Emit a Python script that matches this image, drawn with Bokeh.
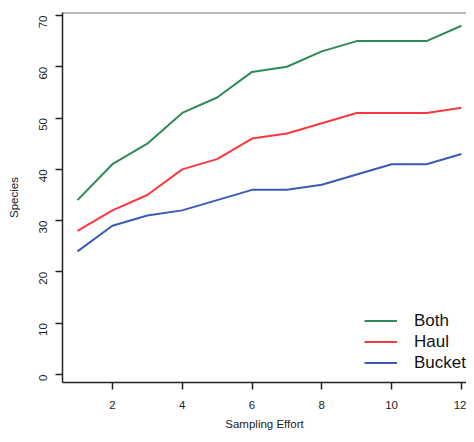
import math
from bokeh.plotting import figure
from bokeh.models import Legend, LegendItem, Span, FixedTicker, Range1d
from bokeh.embed import file_html
from bokeh.resources import INLINE

effort = [1, 2, 3, 4, 5, 6, 7, 8, 9, 10, 11, 12]
both = [34, 41, 45, 51, 54, 59, 60, 63, 65, 65, 65, 68]
haul = [28, 32, 35, 40, 42, 46, 47, 49, 51, 51, 51, 52]
bucket = [24, 29, 31, 32, 34, 36, 36, 37, 39, 41, 41, 43]
series_names = ["Both", "Haul", "Bucket"]
series_colors = ["#2E8B57", "#F8393F", "#3A5AB8"]
x_ticks = [2, 4, 6, 8, 10, 12]
y_ticks = [0, 10, 20, 30, 40, 50, 60, 70]

p = figure(width=466, height=434, output_backend="svg", toolbar_location=None,
           x_range=Range1d(0.57, 12.146), y_range=Range1d(-1.56, 70.58),
           min_border_left=62, min_border_top=12, min_border_right=0, min_border_bottom=52)
p.background_fill_color = "white"
p.border_fill_color = "white"
p.outline_line_color = None
p.grid.visible = False

renderers = []
for data, c in zip([both, haul, bucket], series_colors):
    r = p.line(effort, data, line_color=c, line_width=2)
    renderers.append(r)

font = "Liberation Sans"
for ax in (p.xaxis[0], p.yaxis[0]):
    ax.axis_line_color = "#222222"
    ax.axis_line_width = 1.5
    ax.major_tick_line_color = "#222222"
    ax.major_tick_line_width = 1.5
    ax.major_tick_out = 7
    ax.major_tick_in = 0
    ax.minor_tick_line_color = None
    ax.major_label_text_font = font
    ax.major_label_text_font_size = "11.5px"
    ax.major_label_text_color = "#222222"
    ax.major_label_standoff = 12
    ax.axis_label_text_font = font
    ax.axis_label_text_font_size = "11.5px"
    ax.axis_label_text_font_style = "normal"
    ax.axis_label_text_color = "#222222"

p.xaxis.major_label_standoff = 11
p.xaxis.axis_label_standoff = 6
p.yaxis.axis_label_standoff = 13
p.xaxis.ticker = FixedTicker(ticks=x_ticks)
p.yaxis.ticker = FixedTicker(ticks=y_ticks)
p.yaxis.major_label_orientation = math.pi / 2
p.xaxis.axis_label = "Sampling Effort"
p.yaxis.axis_label = "Species"

top = Span(location=70.58, dimension="width", line_color="#777777", line_width=2)
p.add_layout(top)

legend = Legend(items=[LegendItem(label=n, renderers=[r]) for n, r in zip(series_names, renderers)],
                location=(302, 9))
legend.border_line_color = None
legend.background_fill_alpha = 0
legend.padding = 0
legend.margin = 0
legend.spacing = 0
legend.glyph_width = 33
legend.glyph_height = 21
legend.label_height = 21
legend.label_standoff = 17
legend.label_text_font = font
legend.label_text_font_size = "17px"
legend.label_text_color = "#111111"
p.add_layout(legend)

open("out.html", "w").write(file_html(p, INLINE))
